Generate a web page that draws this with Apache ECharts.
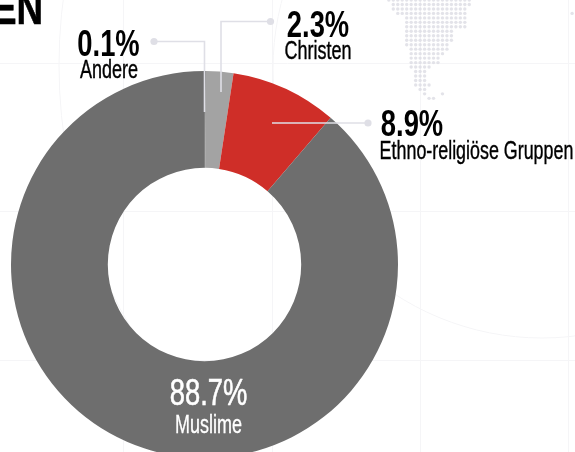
<!DOCTYPE html>
<html>
<head>
<meta charset="utf-8">
<style>html,body{margin:0;padding:0;background:#fff}#c{width:575px;height:452px}</style>
<script src="https://cdn.jsdelivr.net/npm/echarts@6/dist/echarts.min.js"></script>
</head>
<body>
<div id="c"></div>
<script>
// Religious groups, share of population in percent
const groups = ['Andere', 'Christen', 'Ethno-religiöse Gruppen', 'Muslime'];
const shares = [0.1, 2.3, 8.9, 88.7];
const colors = ['#333333', '#a3a3a3', '#cf2e28', '#6e6e6e'];

// Dotted map backdrop: [row, first column, last column]
const mapRuns = [
  [0, -1, 17], [1, 0, 17], [2, 0, 16], [3, 1, 16], [4, 3, 16], [5, 3, 16], [6, 3, 16],
  [7, 3, 13], [8, 3, 13], [9, 3, 13], [10, 3, 12], [11, 4, 12], [12, 4, 11], [13, 4, 10],
  [14, 4, 10], [15, 4, 8], [16, 5, 7], [17, 5, 7], [18, 5, 7], [19, 5, 8], [20, 6, 7],
  [21, 7, 7], [21, 11, 11], [22, 8, 9], [3, 40, 40]
];
const mapDots = [];
mapRuns.forEach(([row, from, to]) => {
  for (let col = from; col <= to; col++) mapDots.push([col, row]);
});

const font = '"Liberation Sans Narrow", "Liberation Sans", sans-serif';
const lineColor = '#dfdfe6';
const faint = '#f5f5f7';

const text = (x, y, s, size, fill, weight, sx, outline) => ({
  type: 'text', x, y, scaleX: sx, z: 20,
  style: {
    text: s, fontFamily: font, fontSize: size, fontWeight: weight, fill,
    stroke: fill, lineWidth: outline,
    textAlign: 'center', textVerticalAlign: 'middle'
  }
});
const leader = (pts) => ({
  type: 'polyline', z: 15, shape: { points: pts },
  style: { stroke: lineColor, lineWidth: 1.6, fill: null }
});
const knob = (cx, cy) => ({
  type: 'circle', z: 15, shape: { cx, cy, r: 3.6 }, style: { fill: lineColor }
});
const vLine = (x) => ({ type: 'line', z: -1, shape: { x1: x, y1: 0, x2: x, y2: 452 }, style: { stroke: faint, lineWidth: 1 } });
const hLine = (y) => ({ type: 'line', z: -1, shape: { x1: 0, y1: y, x2: 575, y2: y }, style: { stroke: faint, lineWidth: 1 } });
const ring = (cx, cy, r) => ({ type: 'circle', z: -1, shape: { cx, cy, r }, style: { fill: null, stroke: faint, lineWidth: 1 } });

const chart = echarts.init(document.getElementById('c'), null, { renderer: 'canvas' });
chart.setOption({
  animation: false,
  grid: { left: 393.3, top: 0, width: 44.7, height: 44.7, containLabel: false },
  xAxis: { type: 'value', min: 0, max: 10, show: false },
  yAxis: { type: 'value', min: 0, max: 10, inverse: true, show: false },
  series: [{
    type: 'scatter',
    silent: true,
    clip: false,
    symbolSize: 3.4,
    itemStyle: { color: '#dcdce4' },
    data: mapDots,
    z: 1
  }, {
    type: 'pie',
    center: [204.5, 264.5],
    radius: [96.7, 193.5],
    startAngle: 90,
    clockwise: true,
    silent: true,
    label: { show: false },
    labelLine: { show: false },
    data: groups.map((name, i) => ({ name, value: shares[i], itemStyle: { color: colors[i] } })),
    z: 5
  }],
  graphic: [
    vLine(123.5), vLine(272.5), vLine(420.5), vLine(568.5),
    hLine(63.5), hLine(211.5), hLine(360.5),
    ring(542, 69, 269), ring(576, 65, 517),
    leader([[154, 41.5], [204.5, 41.5], [204.5, 112]]), knob(154, 41.5),
    leader([[270.5, 21.5], [221, 21.5], [221, 92]]), knob(270.5, 21.5),
    leader([[368, 123], [272, 123]]), knob(368, 123),
    {
      type: 'text', x: 43, y: 34, scaleX: 0.8, z: 20,
      style: { text: 'EN', fontFamily: font, fontSize: 46, fontWeight: 700, fill: '#000', stroke: '#000', lineWidth: 0.6, textAlign: 'right', textVerticalAlign: 'bottom' }
    },
    text(108.5, 46, shares[0].toFixed(1) + '%', 36, '#000', 700, 0.76, 0),
    text(109, 71.5, groups[0], 25, '#000', 400, 0.72, 0.4),
    text(318, 27.5, shares[1].toFixed(1) + '%', 36, '#000', 700, 0.76, 0),
    text(318, 52.5, groups[1], 25, '#000', 400, 0.72, 0.4),
    text(412, 126, shares[2].toFixed(1) + '%', 36, '#000', 700, 0.76, 0),
    text(476.5, 152.5, groups[2], 25, '#000', 400, 0.715, 0.4),
    text(208.5, 395.5, shares[3].toFixed(1) + '%', 36, '#fff', 400, 0.76, 0.6),
    text(208.5, 426.5, groups[3], 25, '#fff', 400, 0.72, 0.3)
  ]
});
</script>
</body>
</html>
